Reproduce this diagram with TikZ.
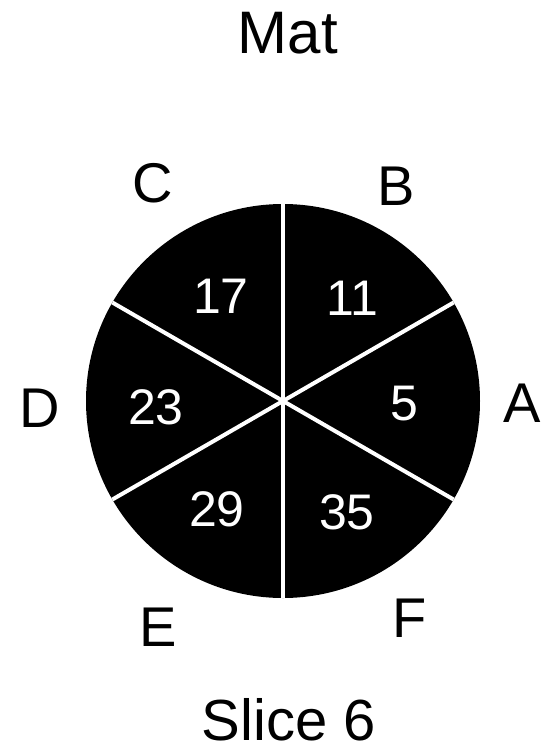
\documentclass[tikz,border=0pt]{standalone}
\usepackage{fontspec}
\setmainfont{Liberation Sans}
\begin{document}
\begin{tikzpicture}[x=1pt,y=-1pt,
  title/.style={inner sep=0pt,font=\fontsize{60}{72}\selectfont},
  letter/.style={inner sep=0pt,font=\fontsize{56}{66}\selectfont},
  num/.style={inner sep=0pt,text=white,font=\fontsize{50}{60}\selectfont},
  sep/.style={draw=white,line width=4pt}]
\useasboundingbox (0,0) rectangle (556,755);
\node[circle,fill=black,minimum size=394pt,inner sep=0pt,outer sep=0pt] (pie) at (283,401) {};
\draw[sep] (pie.north) -- (pie.south);
\draw[sep] (pie.30) -- (pie.210);
\draw[sep] (pie.150) -- (pie.330);
\node[title] (t) at (288,33) {Mat};
\node[title,font=\fontsize{58}{70}\selectfont] (s) at (289,720) {Slice 6};
\node[letter] (A) at (522,403) {A};
\node[letter] (B) at (396,186) {B};
\node[letter] (C) at (153,183) {C};
\node[letter] (D) at (40,408) {D};
\node[letter] (E) at (158,627) {E};
\node[letter] (F) at (410,618) {F};
\node[num] (n17) at (221,296) {17};
\node[num] (n11) at (352,298) {11};
\node[num] (n5) at (404,404) {5};
\node[num] (n23) at (156,407) {23};
\node[num] (n29) at (217,509) {29};
\node[num] (n35) at (347,512) {35};
\end{tikzpicture}
\end{document}
